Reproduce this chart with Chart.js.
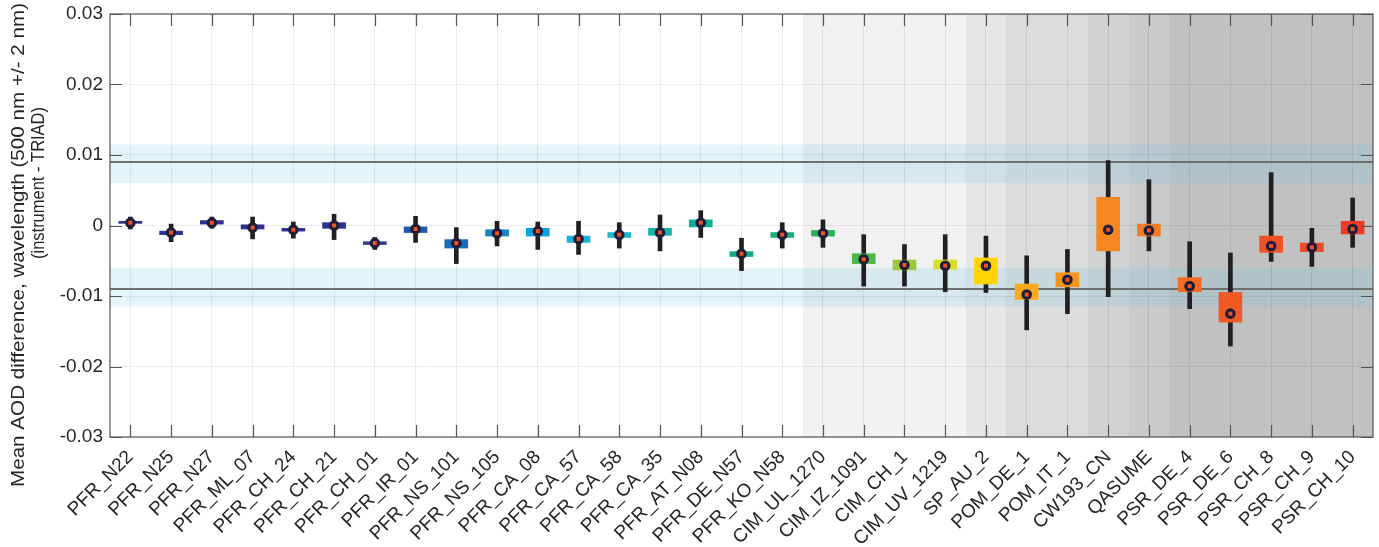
<!DOCTYPE html>
<html>
<head>
<meta charset="utf-8">
<script src="https://cdn.jsdelivr.net/npm/chart.js@4.4.1/dist/chart.umd.min.js"></script>
<style>
  html, body { margin: 0; padding: 0; background: #fff; }
  #wrap { width: 1379px; height: 547px; }
</style>
</head>
<body>
<div id="wrap"><canvas id="aodChart" width="1379" height="547"></canvas></div>
<script>
// instruments (group = prefix before the first "_")
const categories = [
  "PFR_N22", "PFR_N25", "PFR_N27", "PFR_ML_07", "PFR_CH_24", "PFR_CH_21", "PFR_CH_01", "PFR_IR_01",
  "PFR_NS_101", "PFR_NS_105", "PFR_CA_08", "PFR_CA_57", "PFR_CA_58", "PFR_CA_35", "PFR_AT_N08",
  "PFR_DE_N57", "PFR_KO_N58", "CIM_UL_1270", "CIM_IZ_1091", "CIM_CH_1", "CIM_UV_1219", "SP_AU_2",
  "POM_DE_1", "POM_IT_1", "CW193_CN", "QASUME", "PSR_DE_4", "PSR_DE_6", "PSR_CH_8", "PSR_CH_9", "PSR_CH_10"
];

// mean difference (marker)
const medians = [
  0.0004, -0.0010, 0.0004, -0.0003, -0.0006, 0.0000, -0.0025, -0.0005, -0.0025, -0.0011, -0.0008,
  -0.0019, -0.0013, -0.0010, 0.0004, -0.0040, -0.0013, -0.0011, -0.0048, -0.0056, -0.0057, -0.0057,
  -0.0098, -0.0077, -0.0006, -0.0007, -0.0086, -0.0125, -0.0029, -0.0031, -0.0005
];
// box (lower / upper)
const boxLow = [
  0.0003, -0.0013, 0.0002, -0.0005, -0.0008, -0.0004, -0.0027, -0.0010, -0.0032, -0.0015, -0.0015,
  -0.0024, -0.0017, -0.0014, -0.0002, -0.0044, -0.0017, -0.0015, -0.0054, -0.0063, -0.0062, -0.0083,
  -0.0105, -0.0087, -0.0036, -0.0015, -0.0094, -0.0137, -0.0038, -0.0037, -0.0012
];
const boxHigh = [
  0.0006, -0.0008, 0.0007, 0.0001, -0.0004, 0.0004, -0.0023, -0.0002, -0.0020, -0.0006, -0.0004,
  -0.0015, -0.0010, -0.0004, 0.0008, -0.0037, -0.0010, -0.0007, -0.0040, -0.0049, -0.0049, -0.0046,
  -0.0083, -0.0067, 0.0040, 0.0002, -0.0074, -0.0095, -0.0015, -0.0025, 0.0006
];
// whiskers (lower / upper)
const whiskerLow = [
  -0.0005, -0.0023, -0.0004, -0.0019, -0.0018, -0.0020, -0.0034, -0.0024, -0.0054, -0.0029, -0.0034,
  -0.0041, -0.0032, -0.0036, -0.0017, -0.0064, -0.0032, -0.0031, -0.0086, -0.0086, -0.0094, -0.0095,
  -0.0148, -0.0125, -0.0101, -0.0036, -0.0118, -0.0171, -0.0051, -0.0058, -0.0031
];
const whiskerHigh = [
  0.0012, 0.0002, 0.0012, 0.0012, 0.0005, 0.0016, -0.0017, 0.0013, -0.0003, 0.0006, 0.0005,
  0.0006, 0.0004, 0.0015, 0.0021, -0.0018, 0.0004, 0.0008, -0.0013, -0.0027, -0.0013, -0.0015,
  -0.0043, -0.0034, 0.0092, 0.0065, -0.0023, -0.0039, 0.0075, -0.0004, 0.0039
];

const boxColors = [
  "#2e3192", "#2e3192", "#2e3192", "#2e3192", "#2e3192", "#2e3192", "#2e3a94", "#1d5aa8",
  "#1b6cba", "#1686c8", "#0ea2e0", "#18b2dc", "#1ab5c6", "#17b3a9", "#0fae98", "#0fab86",
  "#19b07a", "#27b257", "#4db848", "#9aca3c", "#d6e02c", "#ffd400", "#f9ab1a", "#f7941d",
  "#f6861f", "#f47c20", "#f26b22", "#f15a24", "#f05224", "#ef4a26", "#ed3b2a"
];

const yTicks = [-0.03, -0.02, -0.01, 0, 0.01, 0.02, 0.03];

// reference band and limit lines
const bandInner = 0.006;
const bandOuter = 0.0115;
const limitLine = 0.009;

const shadeGroups = ["CIM", "SP", "POM", "CW193", "QASUME", "PSR"];
const shadeColors = ["#f0f1f0", "#e5e6e5", "#dbdcdc", "#d1d2d3", "#c9cacb", "#c1c1c1"];
const bandColor = "rgba(120,200,235,0.2)";
const frameColor = "#555";
const textColor = "#262626";
const fontFamily = "'Liberation Sans', Arial, sans-serif";

const boxes = categories.map((c, i) => [boxLow[i], boxHigh[i]]);
const whiskers = categories.map((c, i) => [whiskerLow[i], whiskerHigh[i]]);

function drawRotated(ctx, text, cx, cy, len) {
  ctx.save();
  ctx.translate(cx, cy);
  ctx.rotate(-Math.PI / 2);
  const w = ctx.measureText(text).width;
  ctx.scale(len / w, 1);
  ctx.fillText(text, 0, 0);
  ctx.restore();
}

const decorPlugin = {
  id: "decor",
  beforeDraw(chart) {
    const { ctx, chartArea: a, scales: { x, y } } = chart;
    const half = (x.getPixelForValue(1) - x.getPixelForValue(0)) / 2;
    ctx.save();
    categories.forEach((c, i) => {
      const k = shadeGroups.indexOf(c.split("_")[0]);
      if (k < 0) return;
      const left = Math.round(x.getPixelForValue(i) - half);
      const right = Math.round(x.getPixelForValue(i) + half);
      ctx.fillStyle = shadeColors[k];
      ctx.fillRect(left, a.top, right - left, a.bottom - a.top);
    });
    ctx.fillStyle = bandColor;
    [[bandInner, bandOuter], [-bandOuter, -bandInner]].forEach(([lo, hi]) => {
      const top = y.getPixelForValue(hi), bot = y.getPixelForValue(lo);
      ctx.fillRect(a.left, top, a.right - a.left, bot - top);
    });
    ctx.restore();
  },
  beforeDatasetsDraw(chart) {
    const { ctx, chartArea: a, scales: { y } } = chart;
    ctx.save();
    ctx.strokeStyle = "#6f6f6f";
    ctx.lineWidth = 2;
    [limitLine, -limitLine].forEach(v => {
      const py = y.getPixelForValue(v);
      ctx.beginPath();
      ctx.moveTo(a.left, py);
      ctx.lineTo(a.right, py);
      ctx.stroke();
    });
    ctx.restore();
  },
  afterDraw(chart) {
    const { ctx, chartArea: a, scales: { x, y } } = chart;
    ctx.save();
    ctx.strokeStyle = frameColor;
    ctx.lineWidth = 1.2;
    ctx.strokeRect(a.left, a.top, a.right - a.left, a.bottom - a.top);
    ctx.beginPath();
    yTicks.forEach(v => {
      const py = Math.round(y.getPixelForValue(v)) + 0.5;
      ctx.moveTo(a.left, py); ctx.lineTo(a.left + 12, py);
      ctx.moveTo(a.right, py); ctx.lineTo(a.right - 12, py);
    });
    categories.forEach((c, i) => {
      const px = Math.round(x.getPixelForValue(i)) + 0.5;
      ctx.moveTo(px, a.bottom); ctx.lineTo(px, a.bottom - 12);
      ctx.moveTo(px, a.top); ctx.lineTo(px, a.top + 12);
    });
    ctx.stroke();

    // y axis title
    ctx.fillStyle = textColor;
    ctx.font = "19px " + fontFamily;
    ctx.textAlign = "center";
    ctx.textBaseline = "middle";
    drawRotated(ctx, "Mean AOD difference, wavelength (500 nm +/- 2 nm)", 19, 245, 484);
    drawRotated(ctx, "(instrument - TRIAD)", 39, 183, 152);
    ctx.restore();
  }
};

new Chart(document.getElementById("aodChart"), {
  type: "bar",
  data: {
    labels: categories,
    datasets: [
      { type: "line", data: medians, showLine: false, pointStyle: "rect", pointRadius: 2.8,
        pointBackgroundColor: "#f2521f", pointBorderWidth: 0, order: 0 },
      { type: "line", data: medians, showLine: false, pointStyle: "circle", pointRadius: 5.3,
        pointBackgroundColor: "#1d1d3b", pointBorderWidth: 0, order: 1 },
      { data: boxes, backgroundColor: boxColors, barThickness: 23, grouped: false, order: 2 },
      { data: whiskers, backgroundColor: "#231f20", barThickness: 4, grouped: false, order: 3 }
    ]
  },
  options: {
    responsive: false,
    animation: false,
    layout: { padding: { top: 14, right: 6, left: 0, bottom: 0 } },
    plugins: { legend: { display: false }, tooltip: { enabled: false } },
    scales: {
      x: {
        offset: true,
        grid: { offset: false, color: "rgba(0,0,0,0.07)", drawTicks: false },
        border: { display: false },
        ticks: {
          color: textColor, font: { family: fontFamily, size: 19 },
          minRotation: 45, maxRotation: 45, padding: 9, autoSkip: false
        },
        afterFit(s) { s.height = 110; }
      },
      y: {
        min: -0.03, max: 0.03,
        grid: { color: "rgba(0,0,0,0.07)", drawTicks: false },
        border: { display: false },
        ticks: {
          color: textColor, font: { family: fontFamily, size: 19 }, padding: 7,
          callback: v => (v === 0 ? "0" : Number(v).toFixed(2))
        },
        afterBuildTicks(s) { s.ticks = yTicks.map(v => ({ value: v })); },
        afterFit(s) { s.width = 110; s.paddingTop = 0; s.paddingBottom = 0; }
      }
    }
  },
  plugins: [decorPlugin]
});
</script>
</body>
</html>
